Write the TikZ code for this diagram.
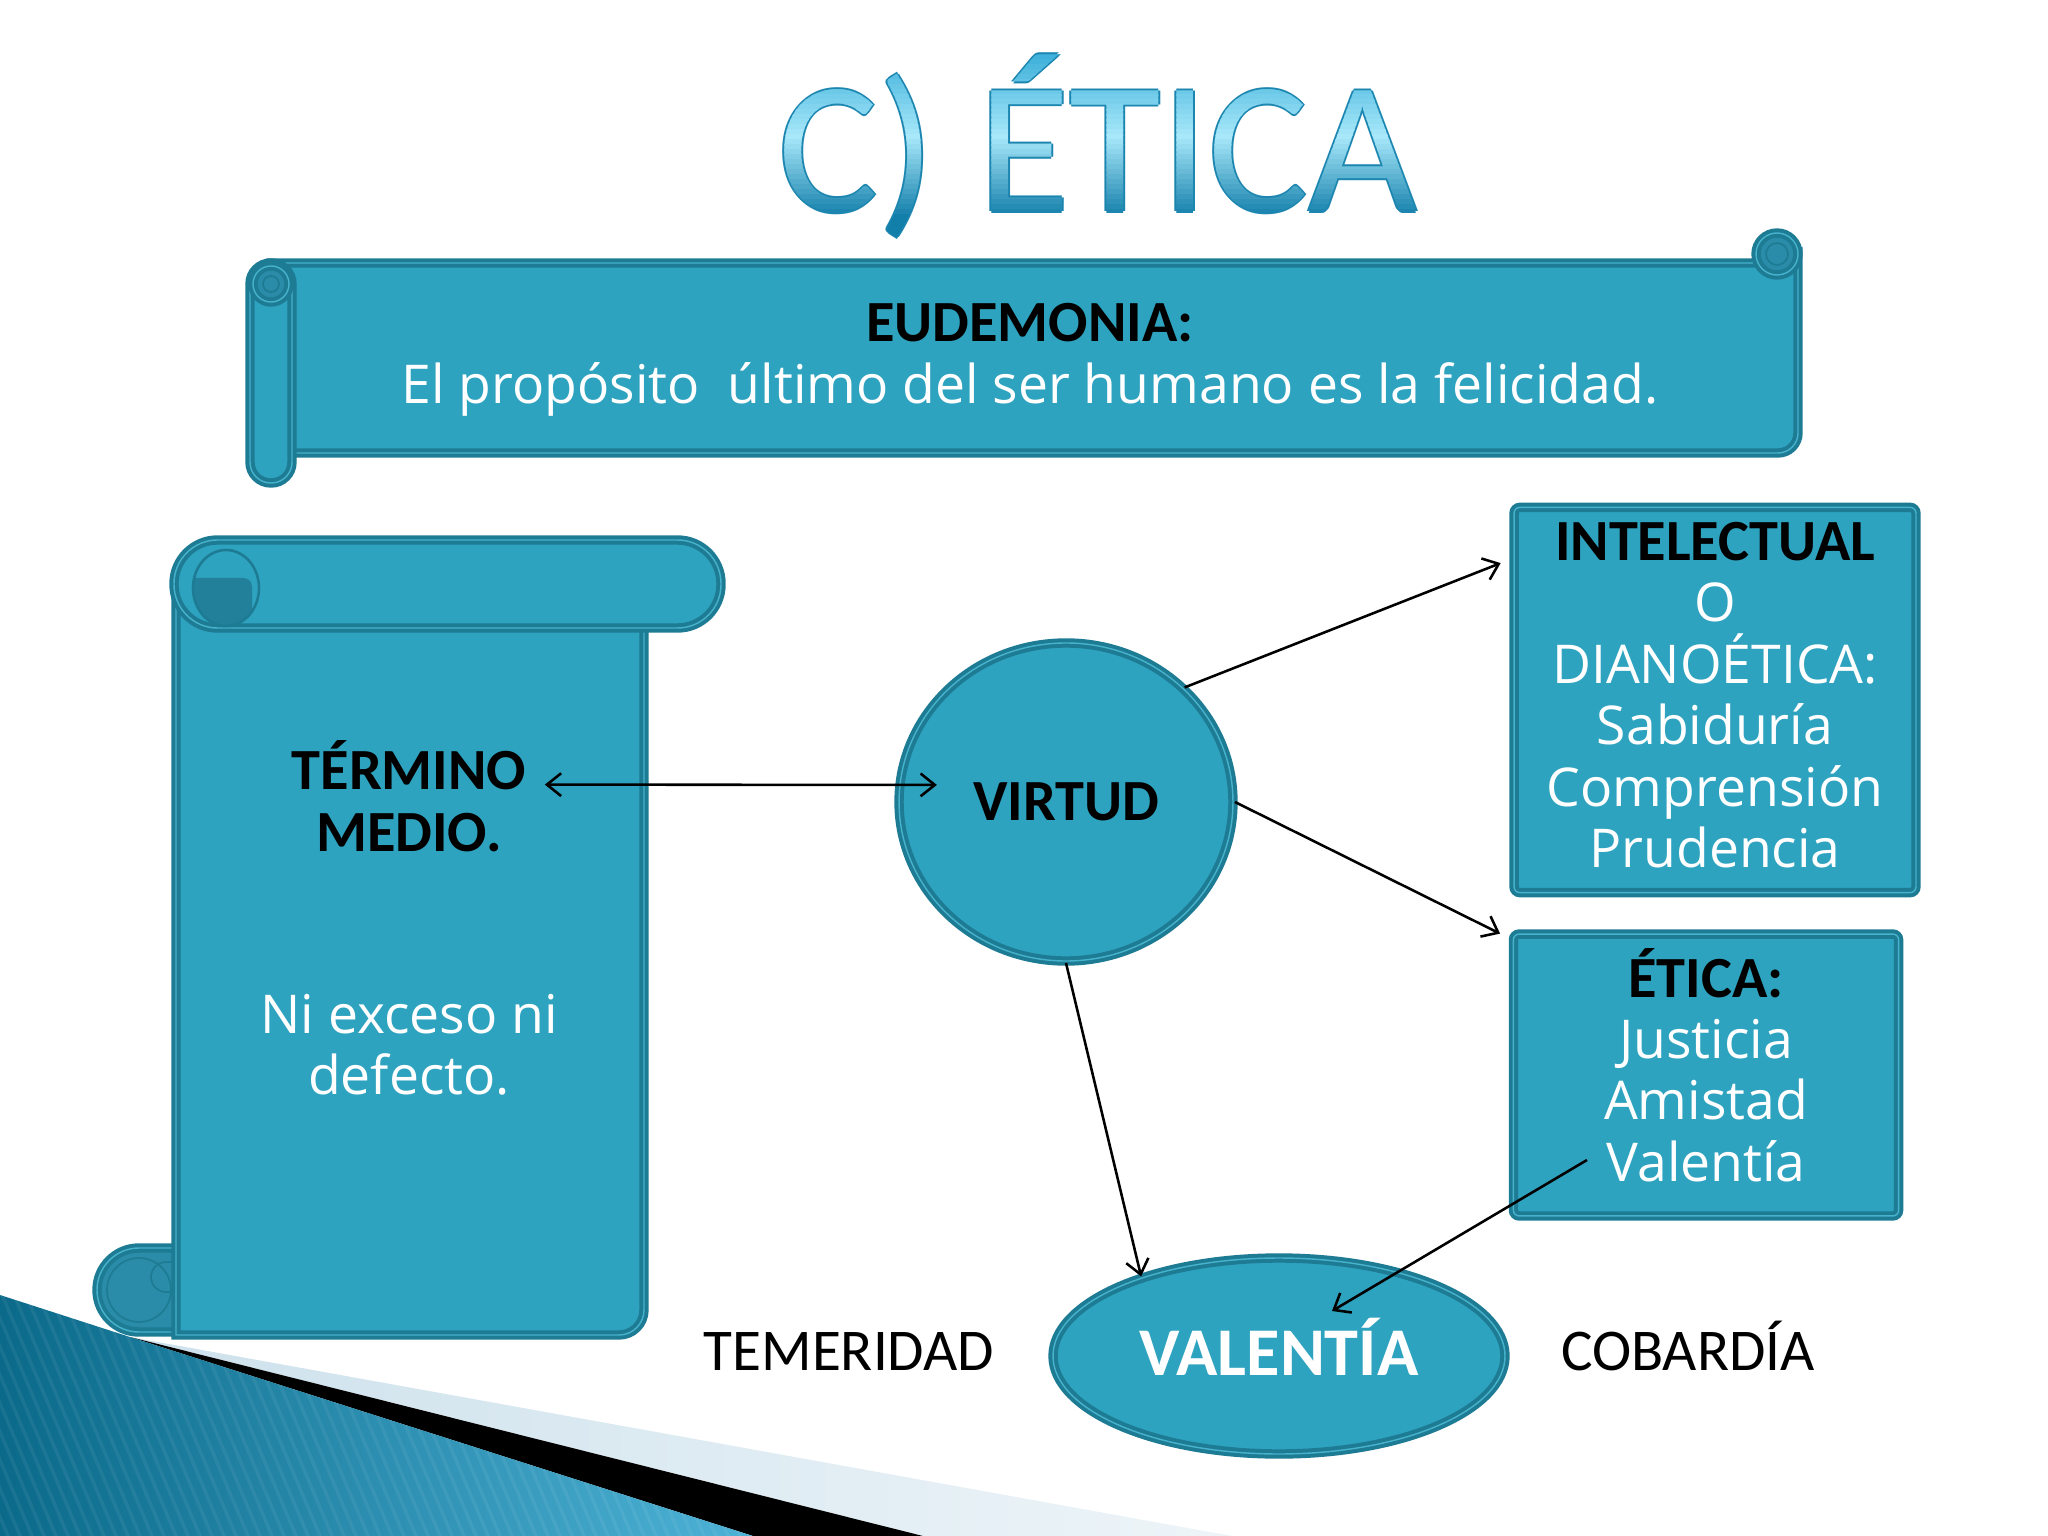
\documentclass[tikz,border=0pt]{standalone}
\usepackage{fontspec}
\setmainfont{Open Sans}
\newfontfamily\calib{Carlito}
\usetikzlibrary{shapes.geometric,arrows.meta}

\definecolor{scrollfill}{HTML}{2EA3C0}
\definecolor{scrolledge}{HTML}{1E7B94}
\definecolor{scrollline}{HTML}{47B2CB}
\definecolor{scrollshade}{HTML}{2A8CA8}
\definecolor{curldark}{HTML}{23809B}
\definecolor{titletop}{HTML}{45B4DC}
\definecolor{titlemid}{HTML}{A8E8FA}
\definecolor{titlebot}{HTML}{127EAA}
\definecolor{titleedge}{HTML}{1C86B0}
\definecolor{decodark}{HTML}{0B6A8A}
\definecolor{decolight}{HTML}{4DB2D6}
\definecolor{bandblue}{HTML}{CDE1EC}

\newcommand{\hd}[1]{{\color{black}\calib\bfseries\fontsize{20.5}{21.6}\selectfont #1}}

\tikzset{
    scroll/.style={
        fill=scrollfill,draw=scrolledge,line width=1.4pt,
        double=scrollline,double distance=.5pt
    },
    roll/.style={scroll,fill=scrollshade},
    curl/.style={draw=scrolledge,line width=.6pt},
    body text/.style={font=\fontsize{18.8}{21.6}\selectfont,text=white,align=center},
    heading/.style={font=\calib\bfseries\fontsize{20.5}{21.6}\selectfont,text=black,align=center},
    side text/.style={font=\calib\fontsize{20.8}{21.6}\selectfont,text=black,anchor=base},
    blue box/.style={scroll,rectangle,rounded corners=2pt,inner sep=0pt},
    blue oval/.style={scroll,ellipse,inner sep=0pt,align=center},
    title text/.style={font=\calib\fontsize{66}{66}\selectfont,inner sep=0pt,anchor=base},
    link/.style={line width=.9pt}
}

\begin{document}
\begin{tikzpicture}[x=0.3515625pt,y=-0.3515625pt,>={Straight Barb[length=5pt,width=8pt]}]
    \useasboundingbox (0,0) rectangle (2048,1536);
    \fill[white] (0,0) rectangle (2048,1536);
    % corner swoosh
    \shade[left color=bandblue,right color=bandblue!35] (130,1337) -- (1232,1536) -- (923,1536) -- cycle;
    \fill[black] (130,1337) -- (923,1536) -- (753,1536) -- cycle;
    \shade[left color=decodark,right color=decolight] (0,1295) -- (130,1337) -- (753,1536) -- (0,1536) -- cycle;
    \begin{scope}
        \clip (0,1295) -- (130,1337) -- (753,1536) -- (0,1536) -- cycle;
        \foreach \x in {-300,-288,...,760}
            \draw[white,opacity=.06,line width=1.2pt] (\x,1290) -- ++(110,260);
    \end{scope}

    % title
    \foreach \dx/\dy [count=\k] in {-2/0,2/0,0/-2,0/2}
        \node[title text,text=titleedge] (title edge\k) at (1098+\dx,212+\dy) {C) ÉTICA};
    \foreach \y [evaluate=\y as \p using {int((135-\y)*100/75)}] in {55,60,...,130} {
        \begin{scope}
            \clip (700,\y) rectangle (1500,\y+6);
            \node[title text,text=titletop!\p!titlemid] (title top\y) at (1098,212) {C) ÉTICA};
        \end{scope}
    }
    \foreach \y [evaluate=\y as \p using {int(min(100,(\y-135)*100/80))}] in {135,140,...,240} {
        \begin{scope}
            \clip (700,\y) rectangle (1500,\y+6);
            \node[title text,text=titlebot!\p!titlemid] (title low\y) at (1098,212) {C) ÉTICA};
        \end{scope}
    }

    % banner
    \draw[scroll] (271,263) -- (1777,263) -- (1798,254) -- (1798,433)
        arc[start angle=0,end angle=90,radius=20] -- (271,453) -- cycle;
    \draw[roll] (1777,254) circle[radius=21];
    \draw[curl] (1777,254) circle[radius=11];
    \draw[scroll,rounded corners=7.3pt] (250,263) rectangle (292,483);
    \draw[roll] (271,284) circle[radius=18];
    \draw[curl] (271,284) circle[radius=8];
    \node[body text] (eudemonia) at (1030,360) {\hd{EUDEMONIA:}\\El propósito\ \ último del ser humano es la felicidad.};

    % scroll on the left
    \draw[roll] (183,1248) -- (139,1248) arc[start angle=270,end angle=90,radius=42] -- (183,1332);
    \draw[curl] (139,1290) circle[radius=32];
    \draw[curl] (178,1262) -- (166,1262) arc[start angle=270,end angle=90,radius=15] -- (178,1292);
    \draw[scroll] (176,584) -- (176,1335) -- (619,1335) arc[start angle=90,end angle=0,radius=25] -- (644,584);
    \draw[scroll,rounded corners=15.3pt] (174,540) rectangle (721,628);
    \begin{scope}
        \clip (226,588) ellipse[x radius=33,y radius=38];
        \fill[curldark,rounded corners=3pt] (186,578) rectangle (252,632);
    \end{scope}
    \draw[curl,line width=.9pt] (226,588) ellipse[x radius=33,y radius=38];
    \node[heading] (termino) at (409,796) {TÉRMINO\\MEDIO.};
    \node[body text] (exceso) at (409,1045) {Ni exceso ni\\defecto.};

    % virtudes
    \node[blue oval,heading,minimum width=117.4pt,minimum height=111.8pt] (virtud) at (1066,802) {VIRTUD};
    \node[blue box,minimum width=141.3pt,minimum height=135.4pt] (intel) at (1715,700) {};
    \node[body text] (intel text) at (1715,695)
        {\hd{INTELECTUAL}\\O\\DIANOÉTICA:\\Sabiduría\\Comprensión\\Prudencia};
    \node[blue box,minimum width=135.4pt,minimum height=99.1pt] (etica) at (1706,1075) {};
    \node[body text] (etica text) at (1706,1065) {\hd{ÉTICA:}\\Justicia\\Amistad\\Valentía};
    \node[blue oval,minimum width=158.9pt,minimum height=68.9pt,text=white,text height=13.5pt,text depth=0pt,
        font=\calib\bfseries\fontsize{24}{24}\selectfont] (valentia) at (1279,1356) {VALENTÍA};
    \node[side text] (temeridad) at (849,1370) {TEMERIDAD};
    \node[side text] (cobardia) at (1688,1370) {COBARDÍA};

    % arrows
    \draw[link,<->] ([xshift=3pt,yshift=4pt]termino.east) -- ([xshift=14pt,yshift=6pt]virtud.west);
    \draw[link,->] (virtud.44) -- ([xshift=-4pt]intel.146);
    \draw[link,->] (virtud.east) -- ([xshift=-4pt]etica.144);
    \draw[link,->] (virtud.south) -- (valentia.150);
    \draw[link,->] ([shift={(-119,85)}]etica.center) -- ([shift={(53,-45)}]valentia.center);
\end{tikzpicture}
\end{document}
